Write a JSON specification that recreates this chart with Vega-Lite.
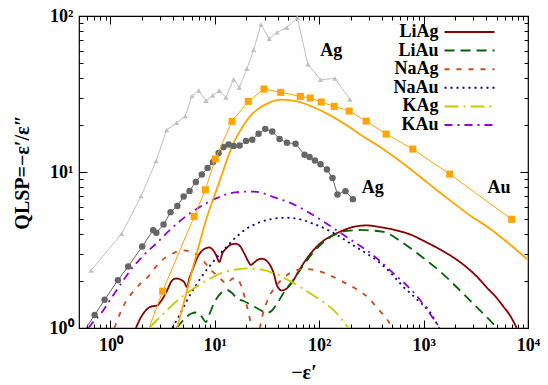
{
  "$schema": "https://vega.github.io/schema/vega-lite/v6.json",
  "width": 449,
  "height": 312,
  "autosize": {"type": "none"},
  "padding": {"left": 79, "top": 16, "right": 20, "bottom": 57},
  "background": "white",
  "config": {
    "view": {"stroke": "black", "strokeWidth": 1.2},
    "font": "Liberation Serif",
    "axis": {"domain": false, "grid": false, "tickColor": "black", "labelColor": "black", "titleColor": "black", "labelFont": "Liberation Serif", "labelFontSize": 18, "labelFontWeight": "bold", "titleFont": "Liberation Serif", "titleFontSize": 20, "titleFontWeight": "bold", "labelFlush": false, "labelOverlap": false, "labelBound": false, "tickWidth": 1}
  },
  "datasets": {
    "theory": [
      {"m":"LiAg","e":1.754,"q":1.0},{"m":"LiAg","e":1.980,"q":1.185},{"m":"LiAg","e":2.245,"q":1.324},{"m":"LiAg","e":2.468,"q":1.374},{"m":"LiAg","e":2.798,"q":1.394},{"m":"LiAg","e":3.076,"q":1.501},{"m":"LiAg","e":3.487,"q":1.740},{"m":"LiAg","e":3.835,"q":1.987},{"m":"LiAg","e":4.235,"q":2.077},{"m":"LiAg","e":4.677,"q":2.047},{"m":"LiAg","e":5.11,"q":1.958},{"m":"LiAg","e":5.42,"q":1.832},{"m":"LiAg","e":5.70,"q":2.077},{"m":"LiAg","e":6.27,"q":2.462},{"m":"LiAg","e":6.80,"q":2.833},{"m":"LiAg","e":7.35,"q":3.073},{"m":"LiAg","e":8.11,"q":3.236},{"m":"LiAg","e":8.86,"q":3.284},{"m":"LiAg","e":9.67,"q":3.142},{"m":"LiAg","e":10.33,"q":2.917},{"m":"LiAg","e":11.04,"q":2.650},{"m":"LiAg","e":11.80,"q":3.006},{"m":"LiAg","e":12.88,"q":3.236},{"m":"LiAg","e":14.38,"q":3.433},{"m":"LiAg","e":15.89,"q":3.468},{"m":"LiAg","e":17.54,"q":3.333},{"m":"LiAg","e":19.15,"q":3.006},{"m":"LiAg","e":20.92,"q":2.670},{"m":"LiAg","e":22.11,"q":2.536},{"m":"LiAg","e":23.88,"q":2.631},{"m":"LiAg","e":26.08,"q":2.750},{"m":"LiAg","e":28.49,"q":2.779},{"m":"LiAg","e":31.1,"q":2.710},{"m":"LiAg","e":33.97,"q":2.517},{"m":"LiAg","e":36.7,"q":2.236},{"m":"LiAg","e":39.4,"q":1.874},{"m":"LiAg","e":43.8,"q":1.740},{"m":"LiAg","e":48.9,"q":1.792},{"m":"LiAg","e":56.4,"q":2.017},{"m":"LiAg","e":65.8,"q":2.408},{"m":"LiAg","e":87.6,"q":3.142},{"m":"LiAg","e":109.2,"q":3.614},{"m":"LiAg","e":136.1,"q":3.950},{"m":"LiAg","e":169.7,"q":4.221},{"m":"LiAg","e":211.6,"q":4.445},{"m":"LiAg","e":286.1,"q":4.545},{"m":"LiAg","e":383.4,"q":4.432},{"m":"LiAg","e":553.9,"q":4.221},{"m":"LiAg","e":742.8,"q":3.979},{"m":"LiAg","e":1073,"q":3.535},{"m":"LiAg","e":1439,"q":3.188},{"m":"LiAg","e":1929,"q":2.833},{"m":"LiAg","e":2496,"q":2.498},{"m":"LiAg","e":3230,"q":2.140},{"m":"LiAg","e":4025,"q":1.819},{"m":"LiAg","e":5018,"q":1.557},{"m":"LiAg","e":5802,"q":1.374},{"m":"LiAg","e":6726,"q":1.203},{"m":"LiAg","e":7798,"q":1.0},
      {"m":"LiAu","e":4.28,"q":1.0},{"m":"LiAu","e":4.78,"q":1.085},{"m":"LiAu","e":5.34,"q":1.176},{"m":"LiAu","e":5.96,"q":1.239},{"m":"LiAu","e":6.61,"q":1.257},{"m":"LiAu","e":7.11,"q":1.230},{"m":"LiAu","e":7.59,"q":1.168},{"m":"LiAu","e":8.20,"q":1.093},{"m":"LiAu","e":8.86,"q":1.221},{"m":"LiAu","e":9.89,"q":1.457},{"m":"LiAu","e":11.47,"q":1.677},{"m":"LiAu","e":13.09,"q":1.753},{"m":"LiAu","e":14.60,"q":1.677},{"m":"LiAu","e":16.31,"q":1.546},{"m":"LiAu","e":18.86,"q":1.490},{"m":"LiAu","e":22.70,"q":1.394},{"m":"LiAu","e":27.25,"q":1.305},{"m":"LiAu","e":31.6,"q":1.248},{"m":"LiAu","e":35.3,"q":1.295},{"m":"LiAu","e":39.4,"q":1.429},{"m":"LiAu","e":45.5,"q":1.677},{"m":"LiAu","e":56.8,"q":2.047},{"m":"LiAu","e":70.8,"q":2.536},{"m":"LiAu","e":88.2,"q":3.063},{"m":"LiAu","e":118.5,"q":3.695},{"m":"LiAu","e":147.7,"q":4.02},{"m":"LiAu","e":184.1,"q":4.19},{"m":"LiAu","e":246.8,"q":4.25},{"m":"LiAu","e":307.6,"q":4.22},{"m":"LiAu","e":412.4,"q":4.13},{"m":"LiAu","e":595.6,"q":3.614},{"m":"LiAu","e":925.7,"q":2.917},{"m":"LiAu","e":1439,"q":2.304},{"m":"LiAu","e":2235,"q":1.740},{"m":"LiAu","e":3230,"q":1.359},{"m":"LiAu","e":4142,"q":1.151},{"m":"LiAu","e":5050,"q":1.0},
      {"m":"NaAg","e":1.092,"q":1.0},{"m":"NaAg","e":1.260,"q":1.276},{"m":"NaAg","e":1.423,"q":1.501},{"m":"NaAg","e":1.635,"q":1.697},{"m":"NaAg","e":1.937,"q":1.929},{"m":"NaAg","e":2.275,"q":2.118},{"m":"NaAg","e":2.637,"q":2.408},{"m":"NaAg","e":3.056,"q":2.690},{"m":"NaAg","e":3.669,"q":2.917},{"m":"NaAg","e":4.28,"q":3.073},{"m":"NaAg","e":4.995,"q":3.142},{"m":"NaAg","e":5.83,"q":3.095},{"m":"NaAg","e":6.65,"q":2.961},{"m":"NaAg","e":7.43,"q":2.792},{"m":"NaAg","e":8.29,"q":2.555},{"m":"NaAg","e":9.46,"q":2.304},{"m":"NaAg","e":10.80,"q":2.140},{"m":"NaAg","e":12.06,"q":1.987},{"m":"NaAg","e":13.17,"q":1.929},{"m":"NaAg","e":14.38,"q":2.047},{"m":"NaAg","e":15.71,"q":2.093},{"m":"NaAg","e":17.16,"q":1.987},{"m":"NaAg","e":18.74,"q":1.690},{"m":"NaAg","e":20.24,"q":1.394},{"m":"NaAg","e":21.62,"q":1.151},{"m":"NaAg","e":22.85,"q":0.964},{"m":"NaAg","e":24.69,"q":0.772},{"m":"NaAg","e":26.66,"q":0.964},{"m":"NaAg","e":28.49,"q":1.185},{"m":"NaAg","e":31.1,"q":1.436},{"m":"NaAg","e":35.3,"q":1.714},{"m":"NaAg","e":42.4,"q":2.002},{"m":"NaAg","e":52.8,"q":2.253},{"m":"NaAg","e":70.8,"q":2.390},{"m":"NaAg","e":95.1,"q":2.338},{"m":"NaAg","e":127.4,"q":2.171},{"m":"NaAg","e":170.8,"q":1.967},{"m":"NaAg","e":229.5,"q":1.766},{"m":"NaAg","e":307.6,"q":1.523},{"m":"NaAg","e":369.4,"q":1.314},{"m":"NaAg","e":444.5,"q":1.142},{"m":"NaAg","e":505,"q":1.0},
      {"m":"NaAu","e":3.92,"q":1.0},{"m":"NaAu","e":4.57,"q":1.203},{"m":"NaAu","e":5.34,"q":1.479},{"m":"NaAu","e":6.23,"q":1.766},{"m":"NaAu","e":7.27,"q":2.077},{"m":"NaAu","e":8.48,"q":2.390},{"m":"NaAu","e":9.78,"q":2.690},{"m":"NaAu","e":11.29,"q":3.006},{"m":"NaAu","e":13.09,"q":3.333},{"m":"NaAu","e":15.13,"q":3.695},{"m":"NaAu","e":17.54,"q":4.04},{"m":"NaAu","e":20.33,"q":4.35},{"m":"NaAu","e":23.51,"q":4.58},{"m":"NaAu","e":27.25,"q":4.77},{"m":"NaAu","e":36.5,"q":5.02},{"m":"NaAu","e":49.1,"q":5.09},{"m":"NaAu","e":65.8,"q":4.97},{"m":"NaAu","e":88.2,"q":4.65},{"m":"NaAu","e":118.5,"q":4.28},{"m":"NaAu","e":158.9,"q":3.835},{"m":"NaAu","e":212.9,"q":3.382},{"m":"NaAu","e":286.1,"q":2.992},{"m":"NaAu","e":383.4,"q":2.612},{"m":"NaAu","e":510.7,"q":2.171},{"m":"NaAu","e":640.9,"q":1.832},{"m":"NaAu","e":798.7,"q":1.604},{"m":"NaAu","e":925.7,"q":1.457},{"m":"NaAu","e":1073,"q":1.344},{"m":"NaAu","e":1241,"q":1.168},{"m":"NaAu","e":1407,"q":1.0},
      {"m":"KAg","e":2.361,"q":1.0},{"m":"KAg","e":2.755,"q":1.117},{"m":"KAg","e":3.215,"q":1.230},{"m":"KAg","e":3.751,"q":1.364},{"m":"KAg","e":4.377,"q":1.501},{"m":"KAg","e":5.11,"q":1.628},{"m":"KAg","e":5.96,"q":1.753},{"m":"KAg","e":6.95,"q":1.874},{"m":"KAg","e":8.29,"q":2.017},{"m":"KAg","e":9.67,"q":2.124},{"m":"KAg","e":11.29,"q":2.236},{"m":"KAg","e":13.09,"q":2.304},{"m":"KAg","e":15.13,"q":2.355},{"m":"KAg","e":17.54,"q":2.390},{"m":"KAg","e":20.33,"q":2.408},{"m":"KAg","e":23.51,"q":2.401},{"m":"KAg","e":27.25,"q":2.372},{"m":"KAg","e":31.6,"q":2.321},{"m":"KAg","e":36.5,"q":2.236},{"m":"KAg","e":42.4,"q":2.156},{"m":"KAg","e":49.1,"q":2.047},{"m":"KAg","e":56.8,"q":1.943},{"m":"KAg","e":65.8,"q":1.832},{"m":"KAg","e":88.2,"q":1.616},{"m":"KAg","e":102.2,"q":1.512},{"m":"KAg","e":118.5,"q":1.415},{"m":"KAg","e":147.7,"q":1.239},{"m":"KAg","e":166.0,"q":1.126},{"m":"KAg","e":190.7,"q":1.0},
      {"m":"KAu","e":0.616,"q":1.0},{"m":"KAu","e":0.703,"q":1.117},{"m":"KAu","e":0.811,"q":1.239},{"m":"KAu","e":1.0,"q":1.523},{"m":"KAu","e":1.246,"q":1.901},{"m":"KAu","e":1.455,"q":2.203},{"m":"KAu","e":1.671,"q":2.498},{"m":"KAu","e":1.958,"q":2.792},{"m":"KAu","e":2.260,"q":3.095},{"m":"KAu","e":2.696,"q":3.433},{"m":"KAu","e":3.145,"q":3.806},{"m":"KAu","e":3.751,"q":4.28},{"m":"KAu","e":4.474,"q":4.75},{"m":"KAu","e":5.34,"q":5.23},{"m":"KAu","e":6.61,"q":5.76},{"m":"KAu","e":8.24,"q":6.29},{"m":"KAu","e":10.27,"q":6.77},{"m":"KAu","e":12.80,"q":7.18},{"m":"KAu","e":15.71,"q":7.40},{"m":"KAu","e":20.33,"q":7.48},{"m":"KAu","e":23.51,"q":7.48},{"m":"KAu","e":29.31,"q":7.29},{"m":"KAu","e":33.97,"q":7.03},{"m":"KAu","e":40.8,"q":6.74},{"m":"KAu","e":52.8,"q":6.34},{"m":"KAu","e":65.8,"q":5.90},{"m":"KAu","e":82.0,"q":5.43},{"m":"KAu","e":102.2,"q":4.97},{"m":"KAu","e":132.3,"q":4.43},{"m":"KAu","e":184.1,"q":3.823},{"m":"KAu","e":229.5,"q":3.468},{"m":"KAu","e":286.1,"q":3.142},{"m":"KAu","e":343.6,"q":2.854},{"m":"KAu","e":496.3,"q":2.287},{"m":"KAu","e":742.8,"q":1.784},{"m":"KAu","e":886.0,"q":1.569},{"m":"KAu","e":1034,"q":1.364},{"m":"KAu","e":1180,"q":1.203},{"m":"KAu","e":1317,"q":1.085},{"m":"KAu","e":1439,"q":1.0}
    ],
    "aufit": [
      {"e":4.35,"q":1.0},{"e":5.42,"q":1.740},{"e":6.75,"q":3.05},{"e":8.42,"q":5.14},{"e":10.50,"q":7.85},{"e":12.06,"q":10.24},{"e":13.77,"q":13.16},{"e":15.71,"q":16.19},{"e":18.33,"q":19.33},{"e":21.87,"q":22.89},{"e":26.08,"q":25.40},{"e":31.6,"q":27.42},{"e":43.3,"q":29.09},{"e":61.6,"q":28.37},{"e":87.6,"q":26.09},{"e":127.4,"q":23.07},{"e":184.1,"q":19.90},{"e":246.8,"q":17.42},{"e":383.4,"q":14.44},{"e":640.9,"q":11.30},{"e":1073,"q":8.61},{"e":1793,"q":6.58},{"e":2786,"q":5.27},{"e":4329,"q":4.33},{"e":6726,"q":3.43},{"e":10000,"q":2.73}
    ],
    "ausq": [
      {"e":2.0,"q":0.75},{"e":3.166,"q":1.722},{"e":6.34,"q":5.19},{"e":8.11,"q":7.68},{"e":10.11,"q":12.13},{"e":14.60,"q":21.12},{"e":20.92,"q":28.37},{"e":29.57,"q":34.02},{"e":42.8,"q":32.40},{"e":65.8,"q":30.54},{"e":82.0,"q":29.79},{"e":104.5,"q":28.08},{"e":139.2,"q":26.35},{"e":193.7,"q":24.58},{"e":281.7,"q":21.21},{"e":437.7,"q":17.50},{"e":788,"q":14.03},{"e":1781,"q":9.69},{"e":6983,"q":4.97}
    ],
    "agtri": [
      {"e":0.653,"q":2.34},{"e":1.283,"q":4.02},{"e":1.967,"q":7.01},{"e":2.737,"q":11.75},{"e":3.458,"q":18.62},{"e":4.31,"q":20.71},{"e":5.22,"q":22.84},{"e":6.05,"q":30.68},{"e":7.00,"q":33.23},{"e":8.24,"q":28.67},{"e":9.53,"q":30.99},{"e":11.04,"q":33.23},{"e":12.80,"q":30.09},{"e":15.13,"q":39.26},{"e":17.16,"q":34.88},{"e":20.33,"q":45.98},{"e":23.51,"q":60.5},{"e":27.68,"q":88.1},{"e":33.23,"q":71.6},{"e":39.6,"q":78.6},{"e":48.7,"q":84.2},{"e":61.6,"q":97.4},{"e":78.0,"q":49.0},{"e":102.9,"q":39.0},{"e":141.3,"q":39.8},{"e":196.7,"q":29.2}
    ],
    "agcirc": [
      {"e":0.494,"q":0.843},{"e":0.706,"q":1.212},{"e":0.880,"q":1.517},{"e":1.180,"q":2.026},{"e":1.480,"q":2.480},{"e":2.015,"q":3.333},{"e":2.568,"q":4.24},{"e":2.750,"q":4.08},{"e":3.229,"q":4.60},{"e":3.768,"q":5.53},{"e":4.377,"q":6.06},{"e":5.03,"q":6.97},{"e":5.73,"q":7.56},{"e":6.58,"q":8.64},{"e":7.51,"q":9.65},{"e":8.53,"q":10.62},{"e":9.61,"q":11.61},{"e":10.87,"q":13.22},{"e":12.14,"q":14.44},{"e":13.56,"q":15.03},{"e":15.13,"q":14.70},{"e":17.28,"q":14.81},{"e":19.89,"q":15.83},{"e":22.85,"q":16.07},{"e":26.25,"q":17.61},{"e":30.43,"q":18.90},{"e":35.5,"q":18.21},{"e":41.7,"q":16.26},{"e":49.1,"q":15.41},{"e":59.3,"q":15.19},{"e":72.3,"q":12.91},{"e":80.8,"q":12.46},{"e":91.0,"q":11.87},{"e":102.9,"q":11.23},{"e":118.5,"q":10.39},{"e":134.1,"q":9.14},{"e":149.6,"q":7.18},{"e":178.5,"q":7.54},{"e":210.2,"q":6.70}
    ],
    "labels": [
      {"t":"Ag","e":130.2,"q":59.4},{"t":"Ag","e":325,"q":7.85},{"t":"Au","e":5278,"q":7.85}
    ]
  },
  "layer": [
    {
      "data": {"name": "theory"},
      "mark": {"type": "line", "interpolate": "monotone", "strokeWidth": 1.8, "clip": true},
      "encoding": {
        "x": {"field": "e", "type": "quantitative", "scale": {"type": "log", "domain": [0.5, 10000]},
          "axis": {"orient": "bottom", "values": [0.5,0.6,0.7,0.8,0.9,1,2,3,4,5,6,7,8,9,10,20,30,40,50,60,70,80,90,100,200,300,400,500,600,700,800,900,1000,2000,3000,4000,5000,6000,7000,8000,9000,10000],
            "labelExpr": "datum.value == 1 ? '10⁰' : datum.value == 10 ? '10¹' : datum.value == 100 ? '10²' : datum.value == 1000 ? '10³' : datum.value == 10000 ? '10⁴' : ''",
            "tickSize": {"condition": {"test": "indexof([1,10,100,1000,10000], datum.value) >= 0", "value": -8}, "value": -4},
            "labelPadding": 16, "title": "−ε′", "titlePadding": 4}},
        "y": {"field": "q", "type": "quantitative", "scale": {"type": "log", "domain": [1, 100]},
          "axis": {"orient": "left", "values": [1,2,3,4,5,6,7,8,9,10,20,30,40,50,60,70,80,90,100],
            "labelExpr": "datum.value == 1 ? '10⁰' : datum.value == 10 ? '10¹' : datum.value == 100 ? '10²' : ''",
            "tickSize": {"condition": {"test": "indexof([1,10,100], datum.value) >= 0", "value": -8}, "value": -4},
            "labelPadding": 14, "title": "QLSP=−ε′/ε″", "titleX": -57, "titleBaseline": "middle"}},
        "color": {"field": "m", "type": "nominal",
          "scale": {"domain": ["LiAg","LiAu","NaAg","NaAu","KAg","KAu"], "range": ["#8b0000","#006400","#cc4a1a","#00008b","#c8c800","#9400d3"]},
          "legend": {"title": null, "orient": "none", "legendX": 375, "legendY": 7, "padding": 0, "symbolType": "M-5,0H5", "symbolSize": 100, "symbolStrokeWidth": 2, "symbolOffset": 6.5, "rowPadding": 0.6, "labelAlign": "right", "labelOffset": -40, "labelFont": "Liberation Serif", "labelFontSize": 18, "labelFontWeight": "bold", "labelColor": "black", "labelLimit": 0}},
        "strokeDash": {"field": "m", "type": "nominal",
          "scale": {"domain": ["LiAg","LiAu","NaAg","NaAu","KAg","KAu"], "range": [[1,0],[10,6],[5,7],[2,4],[14,5,2,5],[8,5,2,5]]},
          "legend": {"title": null, "orient": "none", "legendX": 375, "legendY": 7, "padding": 0, "symbolType": "M-5,0H5", "symbolSize": 100, "symbolStrokeWidth": 2, "symbolOffset": 6.5, "rowPadding": 0.6, "labelAlign": "right", "labelOffset": -40, "labelFont": "Liberation Serif", "labelFontSize": 18, "labelFontWeight": "bold", "labelColor": "black", "labelLimit": 0}}
      }
    },
    {
      "data": {"name": "aufit"},
      "mark": {"type": "line", "interpolate": "monotone", "strokeWidth": 1.8, "color": "#ffa500", "clip": true},
      "encoding": {
        "x": {"field": "e", "type": "quantitative", "scale": {"type": "log", "domain": [0.5, 10000]},
          "axis": {"orient": "top", "values": [0.5,0.6,0.7,0.8,0.9,1,2,3,4,5,6,7,8,9,10,20,30,40,50,60,70,80,90,100,200,300,400,500,600,700,800,900,1000,2000,3000,4000,5000,6000,7000,8000,9000,10000],
            "labels": false, "title": null,
            "tickSize": {"condition": {"test": "indexof([1,10,100,1000,10000], datum.value) >= 0", "value": -8}, "value": -4}}},
        "y": {"field": "q", "type": "quantitative", "scale": {"type": "log", "domain": [1, 100]},
          "axis": {"orient": "right", "values": [1,2,3,4,5,6,7,8,9,10,20,30,40,50,60,70,80,90,100],
            "labels": false, "title": null,
            "tickSize": {"condition": {"test": "indexof([1,10,100], datum.value) >= 0", "value": -8}, "value": -4}}}
      }
    },
    {
      "data": {"name": "agtri"},
      "encoding": {
        "x": {"field": "e", "type": "quantitative", "scale": {"type": "log", "domain": [0.5, 10000]}, "axis": null},
        "y": {"field": "q", "type": "quantitative", "scale": {"type": "log", "domain": [1, 100]}, "axis": null}
      },
      "layer": [
        {"mark": {"type": "line", "color": "#c0c0c0", "strokeWidth": 1, "clip": true}},
        {"mark": {"type": "point", "shape": "triangle-up", "filled": true, "size": 28, "color": "#c0c0c0", "opacity": 1, "clip": true}}
      ]
    },
    {
      "data": {"name": "agcirc"},
      "encoding": {
        "x": {"field": "e", "type": "quantitative", "scale": {"type": "log", "domain": [0.5, 10000]}, "axis": null},
        "y": {"field": "q", "type": "quantitative", "scale": {"type": "log", "domain": [1, 100]}, "axis": null}
      },
      "layer": [
        {"mark": {"type": "line", "color": "#666666", "strokeWidth": 1, "clip": true}},
        {"mark": {"type": "point", "shape": "circle", "filled": true, "size": 42, "color": "#666666", "opacity": 1, "clip": true}}
      ]
    },
    {
      "data": {"name": "ausq"},
      "encoding": {
        "x": {"field": "e", "type": "quantitative", "scale": {"type": "log", "domain": [0.5, 10000]}, "axis": null},
        "y": {"field": "q", "type": "quantitative", "scale": {"type": "log", "domain": [1, 100]}, "axis": null}
      },
      "layer": [
        {"mark": {"type": "line", "color": "#ffa500", "strokeWidth": 1, "clip": true}},
        {"mark": {"type": "point", "shape": "square", "filled": true, "size": 50, "color": "#ffa500", "opacity": 1, "clip": true}}
      ]
    },
    {
      "data": {"name": "labels"},
      "mark": {"type": "text", "font": "Liberation Serif", "fontSize": 18, "fontWeight": "bold", "color": "black", "align": "center", "baseline": "middle"},
      "encoding": {
        "x": {"field": "e", "type": "quantitative", "scale": {"type": "log", "domain": [0.5, 10000]}, "axis": null},
        "y": {"field": "q", "type": "quantitative", "scale": {"type": "log", "domain": [1, 100]}, "axis": null},
        "text": {"field": "t"}
      }
    }
  ],
  "resolve": {"axis": {"x": "independent", "y": "independent"}}
}
